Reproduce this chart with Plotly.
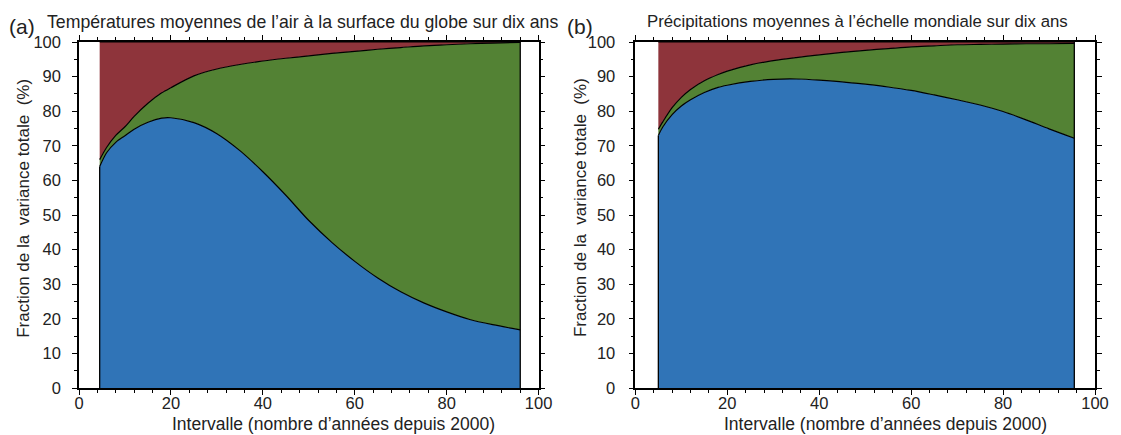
import plotly.graph_objects as go

# Panel (a): decadal global mean surface air temperature
a_interval = [4.5, 6, 8, 10, 12, 15, 18, 20, 25, 30, 35, 40, 45, 50, 55, 60,
              65, 70, 75, 80, 85, 90, 96]
a_model = [64, 68, 71, 72.9, 74.8, 76.8, 78, 78.1, 76.7, 73.5, 68.6, 62.5, 55.7,
           48.4, 42.1, 36.6, 31.8, 27.8, 24.6, 22.0, 19.8, 18.3, 16.8]
a_model_scenario = [66, 69.5, 73, 75.5, 78.5, 82.3, 85.3, 86.8, 90.2, 92.2, 93.5,
                    94.5, 95.3, 96, 96.7, 97.3, 97.9, 98.4, 98.9, 99.2, 99.5,
                    99.7, 99.9]

# Panel (b): decadal global mean precipitation
b_interval = [5, 6, 8, 10, 12, 15, 18, 20, 25, 30, 35, 40, 45, 50, 55, 60,
              65, 70, 75, 80, 85, 90, 95.5]
b_model = [73, 75.5, 79, 81.5, 83.3, 85.4, 86.9, 87.5, 88.6, 89.2, 89.3, 89.0,
           88.5, 87.8, 87.0, 86.0, 84.7, 83.3, 81.8, 79.9, 77.5, 74.9, 72.2]
b_model_scenario = [74.8, 77, 81, 84, 86.3, 88.8, 90.6, 91.6, 93.4, 94.6, 95.5,
                    96.3, 97.0, 97.6, 98.1, 98.6, 98.9, 99.2, 99.3, 99.4, 99.5,
                    99.5, 99.6]

x_ticks = [0, 20, 40, 60, 80, 100]
y_ticks = [0, 10, 20, 30, 40, 50, 60, 70, 80, 90, 100]

titles = ["Températures moyennes de l\u2019air à la surface du globe sur dix ans",
          "Précipitations moyennes à l\u2019échelle mondiale sur dix ans"]
panel_tags = ["(a)", "(b)"]
x_title = "Intervalle (nombre d\u2019années depuis 2000)"
y_title = "Fraction de la\u00a0 variance totale\u00a0 (%)"

BLUE = "#3074B7"
GREEN = "#538234"
RED = "#8E343B"
FONT = "Liberation Sans, Arial, sans-serif"
TEXT = "#222"

fig = go.Figure()

panels = [(a_interval, a_model, a_model_scenario, "x", "y"),
          (b_interval, b_model, b_model_scenario, "x2", "y2")]
for x, model, mod_scen, xa, ya in panels:
    common = dict(x=x, mode="lines", xaxis=xa, yaxis=ya, showlegend=False,
                  hoverinfo="skip")
    curve = dict(color="black", width=1.2, shape="spline", smoothing=0.8)
    # model share, from zero up
    fig.add_trace(go.Scatter(y=model, fill="tozeroy", fillcolor=BLUE, line=curve, **common))
    # scenario share stacked on top
    fig.add_trace(go.Scatter(y=mod_scen, fill="tonexty", fillcolor=GREEN, line=curve, **common))
    # internal variability fills the rest up to 100 %
    fig.add_trace(go.Scatter(y=[100] * len(x), fill="tonexty", fillcolor=RED,
                             line=dict(color="black", width=1), **common))
    # vertical edges of the stack
    fig.add_trace(go.Scatter(x=[x[0], x[0], None, x[-1], x[-1]],
                             y=[0, model[0], None, 0, 100], mode="lines",
                             line=dict(color="black", width=1.3), xaxis=xa, yaxis=ya,
                             showlegend=False, hoverinfo="skip"))

axis_common = dict(
    range=[0, 100], showline=True, linecolor="black", linewidth=1.5,
    mirror="ticks", ticks="outside", ticklen=5, tickwidth=1.4, tickcolor="black",
    showgrid=False, zeroline=False,
    tickfont=dict(family=FONT, size=16.5, color=TEXT),
)
minor_x = dict(dtick=4, ticklen=3, tickwidth=1.2, ticks="outside", tickcolor="black")
minor_y = dict(dtick=5, ticklen=3, tickwidth=1.2, ticks="outside", tickcolor="black")

dom_a = [0, 0.4524]
dom_b = [0.5476, 1]
fig.update_layout(
    width=1121, height=435,
    margin=dict(l=79, r=12, t=42, b=47),
    plot_bgcolor="white", paper_bgcolor="white",
    font=dict(family=FONT, color=TEXT),
    xaxis=dict(domain=dom_a, anchor="y", tickvals=x_ticks, minor=minor_x,
               ticklabelstandoff=-6, **axis_common),
    yaxis=dict(domain=[0, 1], anchor="x", tickvals=y_ticks, minor=minor_y,
               ticklabelstandoff=8, **axis_common),
    xaxis2=dict(domain=dom_b, anchor="y2", tickvals=x_ticks, minor=minor_x,
                ticklabelstandoff=-6, **axis_common),
    yaxis2=dict(domain=[0, 1], anchor="x2", tickvals=y_ticks, minor=minor_y,
                ticklabelstandoff=10, **axis_common),
)

W = 1030.0  # plot-area width in px
H = 346.0   # plot-area height in px


def px_x(p):
    return (p - 79) / W


def px_y(p):
    return (388 - p) / H


ann = []
# panel titles
ann.append(dict(text=titles[0], x=px_x(306), y=px_y(22), xanchor="center", yanchor="middle",
                font=dict(size=17.7)))
ann.append(dict(text=titles[1], x=px_x(868), y=px_y(22), xanchor="center", yanchor="middle",
                font=dict(size=16.8)))
# panel tags
ann.append(dict(text=panel_tags[0], x=px_x(6), y=px_y(26), xanchor="left", yanchor="middle",
                font=dict(size=21)))
ann.append(dict(text=panel_tags[1], x=px_x(572), y=px_y(26), xanchor="left", yanchor="middle",
                font=dict(size=21)))
# axis titles
for cx in (337, 897):
    ann.append(dict(text=x_title, x=px_x(cx), y=px_y(424), xanchor="center", yanchor="middle",
                    font=dict(size=17.5)))
for cx in (22, 587):
    ann.append(dict(text=y_title, x=px_x(cx), y=px_y(208), xanchor="center", yanchor="middle",
                    textangle=-90, font=dict(size=17)))

for a in ann:
    a.update(xref="paper", yref="paper", showarrow=False)
    a["font"].update(family=FONT, color=TEXT)
fig.update_layout(annotations=ann)

fig.write_html("out.html")
